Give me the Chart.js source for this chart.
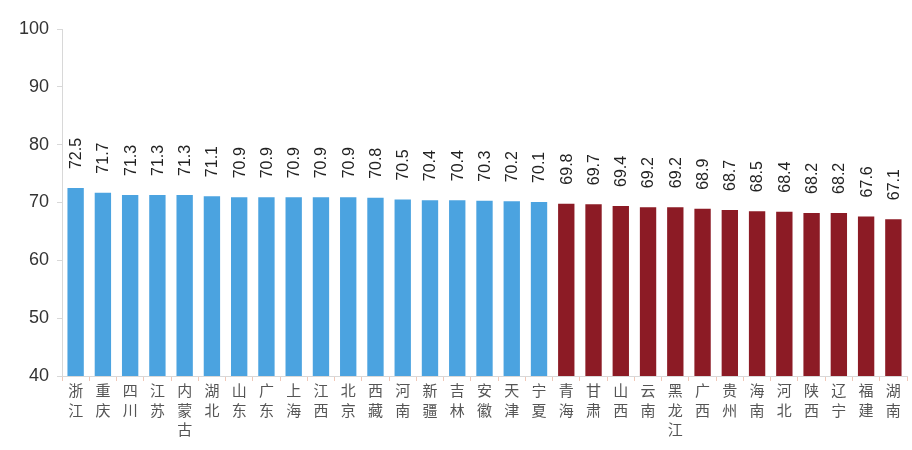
<!DOCTYPE html>
<html>
<head>
<meta charset="utf-8">
<script src="https://cdn.jsdelivr.net/npm/chart.js@4/dist/chart.umd.min.js"></script>
<style>
  html, body { margin: 0; padding: 0; background: #fff; }
  #wrap { width: 912px; height: 450px; }
</style>
</head>
<body>
<div id="wrap"><canvas id="chart"></canvas></div>
<script>
// provinces, each label split into stacked characters
const provinces = ['浙江', '重庆', '四川', '江苏', '内蒙古', '湖北', '山东', '广东', '上海', '江西', '北京', '西藏', '河南', '新疆', '吉林', '安徽', '天津', '宁夏',
    '青海', '甘肃', '山西', '云南', '黑龙江', '广西', '贵州', '海南', '河北', '陕西', '辽宁', '福建', '湖南'];
const values = [72.5, 71.7, 71.3, 71.3, 71.3, 71.1, 70.9, 70.9, 70.9, 70.9, 70.9, 70.8, 70.5, 70.4, 70.4, 70.3, 70.2, 70.1,
    69.8, 69.7, 69.4, 69.2, 69.2, 68.9, 68.7, 68.5, 68.4, 68.2, 68.2, 67.6, 67.1];
const yTicks = [40, 50, 60, 70, 80, 90, 100];
const threshold = 70; // above -> blue, below -> dark red

const BLUE = '#4ba3e0';
const RED = '#8c1b25';

// rotated value labels on top of bars
const valueLabels = {
    id: 'valueLabels',
    afterDatasetsDraw(chart) {
        const ctx = chart.ctx;
        const meta = chart.getDatasetMeta(0);
        ctx.save();
        ctx.fillStyle = '#222';
        ctx.font = '16px "Liberation Sans", Arial, sans-serif';
        ctx.textAlign = 'left';
        ctx.textBaseline = 'middle';
        meta.data.forEach((bar, i) => {
            ctx.save();
            ctx.translate(bar.x + 1, bar.y - 19);
            ctx.rotate(-Math.PI / 2);
            ctx.fillText(values[i].toFixed(1), 0, 0);
            ctx.restore();
        });
        ctx.restore();
    }
};

new Chart(document.getElementById('chart'), {
    type: 'bar',
    data: {
        labels: provinces.map(p => p.split('')),
        datasets: [{
            data: values,
            backgroundColor: values.map(v => v >= threshold ? BLUE : RED),
            barPercentage: 0.6,
            categoryPercentage: 1.0
        }]
    },
    options: {
        responsive: true,
        maintainAspectRatio: false,
        animation: false,
        layout: { padding: { top: 29, right: 5 } },
        plugins: {
            legend: { display: false },
            tooltip: { enabled: false }
        },
        scales: {
            x: {
                grid: { display: true, drawOnChartArea: false, tickLength: 5, color: '#f0c8b8' },
                border: { color: '#d8d8d8' },
                ticks: {
                    color: '#555',
                    font: { size: 15, family: '"Noto Sans CJK SC", sans-serif', lineHeight: 1.3 },
                    maxRotation: 0,
                    autoSkip: false,
                    padding: 0
                },
                afterFit(scale) { scale.height = 74; }
            },
            y: {
                min: 40,
                max: 100,
                afterBuildTicks(scale) { scale.ticks = yTicks.map(v => ({ value: v })); },
                grid: { display: true, drawOnChartArea: false, tickLength: 5, color: '#d8d8d8' },
                border: { color: '#d8d8d8' },
                ticks: {
                    color: '#333',
                    font: { size: 18, family: '"Liberation Sans", Arial, sans-serif' },
                    padding: 8
                },
                afterFit(scale) { scale.width = 62; }
            }
        }
    },
    plugins: [valueLabels]
});
</script>
</body>
</html>
